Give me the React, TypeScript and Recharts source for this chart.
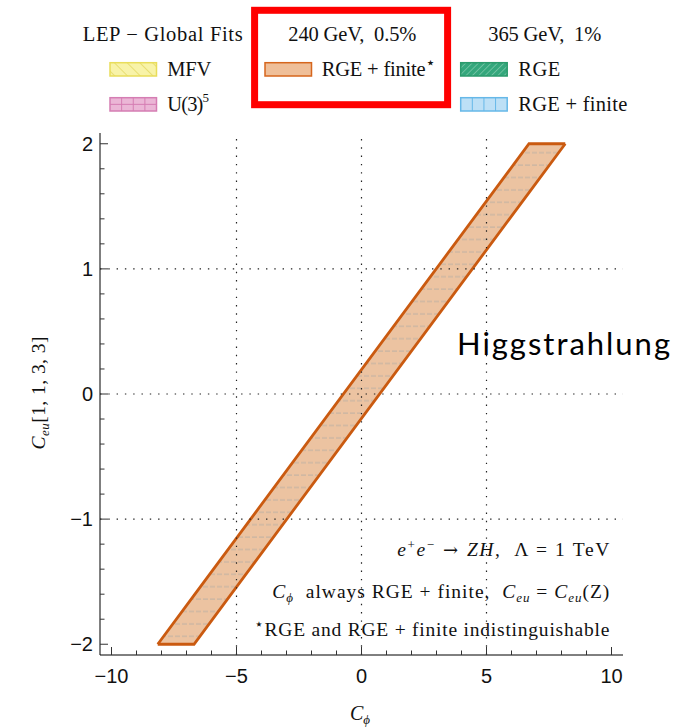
import { ComposedChart, Area, XAxis, YAxis, ReferenceLine } from 'recharts';

// band outline (C_phi, lower / upper C_eu edge)
const bandX = [-8.15, -6.7, 6.7, 8.15];
const bandLow = [-2, -2, 1.61, 2];
const bandHigh = [-2, -1.61, 2, 2];

const xTicks = [-10, -9, -8, -7, -6, -5, -4, -3, -2, -1, 0, 1, 2, 3, 4, 5, 6, 7, 8, 9, 10];
const xMajor = [-10, -5, 0, 5, 10];
const yTicks = [-2, -1.8, -1.6, -1.4, -1.2, -1, -0.8, -0.6, -0.4, -0.2, 0, 0.2, 0.4, 0.6, 0.8, 1, 1.2, 1.4, 1.6, 1.8, 2];
const yMajor = [-2, -1, 0, 1, 2];
const gridX = [-5, 0, 5];
const gridY = [-1, 0, 1];
const xDomain = [-10.46, 10.46];
const yDomain = [-2.086, 2.086];

const legendHeaders = ['LEP \u2212 Global Fits', '240 GeV, \u00a00.5%', '365 GeV, \u00a01%'];
const legendLabels = ['MFV', 'U(3)', 'RGE + finite', 'RGE', 'RGE + finite'];

const SERIF = '"Liberation Serif", "DejaVu Serif", serif';
const SANS = '"Liberation Sans", Arial, sans-serif';
const BAND_FILL = '#ecc3a1';
const BAND_STROKE = '#ca5a10';

const bandData = bandX.map((x, i) => ({ x, range: [bandLow[i], bandHigh[i]] }));

const fmt = (v: number) => (v < 0 ? '\u2212' + Math.abs(v) : String(v));
const isMajorY = (v: number) => yMajor.some((m) => Math.abs(m - v) < 1e-9);

function BottomTick({ x, y, payload }: any) {
    const major = xMajor.includes(payload.value);
    return (
        <g>
            <line x1={x} x2={x} y1={y} y2={y - (major ? 8 : 4.5)} stroke="#333" />
            {major && (
                <text x={x} y={y + 28} textAnchor="middle" fontSize={20} fontFamily={SANS} fill="#111">
                    {fmt(payload.value)}
                </text>
            )}
        </g>
    );
}

function TopTick({ x, y, payload }: any) {
    const major = xMajor.includes(payload.value);
    return <line x1={x} x2={x} y1={y} y2={y + (major ? 8 : 4.5)} stroke="#333" />;
}

function LeftTick({ x, y, payload }: any) {
    const major = isMajorY(payload.value);
    return (
        <g>
            <line x1={x} x2={x + (major ? 8 : 4.5)} y1={y} y2={y} stroke="#333" />
            {major && (
                <text x={x - 7} y={y + 7} textAnchor="end" fontSize={20} fontFamily={SANS} fill="#111">
                    {fmt(payload.value)}
                </text>
            )}
        </g>
    );
}

function RightTick({ x, y, payload }: any) {
    const major = isMajorY(payload.value);
    return <line x1={x} x2={x - (major ? 8 : 4.5)} y1={y} y2={y} stroke="#333" />;
}

function Swatch({ x, y, fill, stroke, cols = 0, rows = 0, pattern }: any) {
    const w = 46.5;
    const h = 13.3;
    return (
        <g>
            <rect x={x} y={y} width={w} height={h} fill={pattern ? `url(#${pattern})` : fill} stroke={stroke} strokeWidth={1.5} />
            {Array.from({ length: Math.max(cols - 1, 0) }, (_, i) => (
                <line key={'c' + i} x1={x + ((i + 1) * w) / cols} x2={x + ((i + 1) * w) / cols} y1={y} y2={y + h} stroke={stroke} strokeWidth={1} />
            ))}
            {Array.from({ length: Math.max(rows - 1, 0) }, (_, i) => (
                <line key={'r' + i} x1={x} x2={x + w} y1={y + ((i + 1) * h) / rows} y2={y + ((i + 1) * h) / rows} stroke={stroke} strokeWidth={1} />
            ))}
        </g>
    );
}

function Overlay() {
    return (
        <svg width={691} height={728} style={{ position: 'absolute', left: 0, top: 0, pointerEvents: 'none' }}>
            <defs>
                <pattern id="bandHatch" patternUnits="userSpaceOnUse" width={7} height={12.4}>
                    <rect width={7} height={12.4} fill={BAND_FILL} />
                    <line x1={0} x2={5} y1={3.9} y2={3.9} stroke="#b8aea4" strokeWidth={0.9} />
                </pattern>
                <pattern id="mfvHatch" patternUnits="userSpaceOnUse" width={9} height={9} patternTransform="rotate(-45)">
                    <rect width={9} height={9} fill="#f8f3a8" />
                    <line x1={0} x2={0} y1={0} y2={9} stroke="#e2d65c" strokeWidth={1.4} />
                </pattern>
                <pattern id="rgeHatch" patternUnits="userSpaceOnUse" width={4.5} height={4.5} patternTransform="rotate(45)">
                    <rect width={4.5} height={4.5} fill="#34a77c" />
                    <line x1={0} x2={0} y1={0} y2={4.5} stroke="#9fd9bf" strokeWidth={1} />
                </pattern>
            </defs>

            {/* legend */}
            <g fontFamily={SERIF} fontSize={20.5} fill="#111">
                <text x={82.7} y={40.7} textLength={160} lengthAdjust="spacing">{legendHeaders[0]}</text>
                <text x={288.3} y={40.7} textLength={128} lengthAdjust="spacing">{legendHeaders[1]}</text>
                <text x={488.3} y={40.7} textLength={113} lengthAdjust="spacing">{legendHeaders[2]}</text>

                <Swatch x={110} y={62.7} stroke="#e9dd5a" pattern="mfvHatch" />
                <text x={167.3} y={76} textLength={44} lengthAdjust="spacing">{legendLabels[0]}</text>

                <Swatch x={110} y={97.7} fill="#ebb6d6" stroke="#d57db3" cols={4} rows={2} />
                <text x={167.3} y={111}>
                    <tspan textLength={36}>{legendLabels[1]}</tspan>
                    <tspan dy={-9} fontSize={13}>5</tspan>
                </text>

                <Swatch x={265} y={62.7} fill="#efbf99" stroke="#d6661d" />
                <text x={321.7} y={76}>
                    <tspan textLength={104}>{legendLabels[2]}</tspan>
                    <tspan dy={-8} fontSize={16} fontFamily='"DejaVu Sans", sans-serif'>{'\u22c6'}</tspan>
                </text>

                <Swatch x={460.7} y={62.7} stroke="#2b9a6c" pattern="rgeHatch" />
                <text x={518.3} y={76} textLength={42} lengthAdjust="spacing">{legendLabels[3]}</text>

                <Swatch x={460.7} y={97.7} fill="#bde0f6" stroke="#66b8e8" cols={4} />
                <text x={518.3} y={111} textLength={109} lengthAdjust="spacing">{legendLabels[4]}</text>
            </g>
            <rect x={254.6} y={10.3} width={193} height={94.4} fill="none" stroke="#ff0000" strokeWidth={7} />

            {/* annotations */}
            <g fontFamily={SERIF} fontSize={19.5} fill="#111" textAnchor="end">
                <text x={609.3} y={556} textLength={212} lengthAdjust="spacing">
                    <tspan fontStyle="italic">e</tspan>
                    <tspan dy={-7} fontSize={13}>+</tspan>
                    <tspan dy={7} fontStyle="italic">e</tspan>
                    <tspan dy={-7} fontSize={13}>{'\u2212'}</tspan>
                    <tspan dy={7} fontFamily='"DejaVu Serif", serif' fontSize={18}>{' \u2192 '}</tspan>
                    <tspan fontStyle="italic">ZH</tspan>
                    <tspan>{', \u00a0\u039b = 1 TeV'}</tspan>
                </text>
                <text x={609.3} y={598} textLength={337} lengthAdjust="spacing">
                    <tspan fontStyle="italic">C</tspan>
                    <tspan dy={4} fontSize={13} fontStyle="italic">{'\u03d5'}</tspan>
                    <tspan dy={-4}>{' \u00a0always RGE + finite, \u00a0'}</tspan>
                    <tspan fontStyle="italic">C</tspan>
                    <tspan dy={4} fontSize={13} fontStyle="italic">eu</tspan>
                    <tspan dy={-4}>{' = '}</tspan>
                    <tspan fontStyle="italic">C</tspan>
                    <tspan dy={4} fontSize={13} fontStyle="italic">eu</tspan>
                    <tspan dy={-4}>(Z)</tspan>
                </text>
                <text x={609.3} y={636} textLength={355} lengthAdjust="spacing">
                    <tspan dy={-7} fontSize={15} fontFamily='"DejaVu Sans", sans-serif'>{'\u22c6'}</tspan>
                    <tspan dy={7}>RGE and RGE + finite indistinguishable</tspan>
                </text>
            </g>

            {/* axis titles */}
            <text x={360} y={720} textAnchor="middle" fontFamily={SERIF} fontSize={20} fill="#111">
                <tspan fontStyle="italic">C</tspan>
                <tspan dy={4} fontSize={13} fontStyle="italic">{'\u03d5'}</tspan>
            </text>
            <text x={45} y={393} textAnchor="middle" fontFamily={SERIF} fontSize={19.5} fill="#111" transform="rotate(-90, 45, 393)" textLength={113} lengthAdjust="spacing">
                <tspan fontStyle="italic">C</tspan>
                <tspan dy={4} fontSize={13} fontStyle="italic">eu</tspan>
                <tspan dy={-4}>[1, 1, 3, 3]</tspan>
            </text>

            <text x={457} y={355} fontFamily='Lato, "Open Sans", sans-serif' fontSize={31} fill="#000" textLength={213} lengthAdjust="spacing">
                Higgstrahlung
            </text>
        </svg>
    );
}

export default function App() {
    return (
        <div style={{ position: 'absolute', left: 0, top: 0, width: 691, height: 728, background: '#fff' }}>
            <ComposedChart width={691} height={728} data={bandData} margin={{ top: 133, right: 68, bottom: 0, left: 0 }}>
                <XAxis
                    dataKey="x"
                    type="number"
                    domain={xDomain}
                    allowDataOverflow
                    ticks={xTicks}
                    interval={0}
                    height={73}
                    tickSize={0}
                    tickMargin={0}
                    tickLine={false}
                    tick={<BottomTick />}
                    axisLine={{ stroke: '#000' }}
                />
                <XAxis
                    xAxisId="top"
                    orientation="top"
                    dataKey="x"
                    type="number"
                    domain={xDomain}
                    allowDataOverflow
                    ticks={xTicks}
                    interval={0}
                    height={0}
                    tickSize={0}
                    tickMargin={0}
                    tickLine={false}
                    tick={<TopTick />}
                    axisLine={{ stroke: '#000' }}
                />
                <YAxis
                    type="number"
                    domain={yDomain}
                    allowDataOverflow
                    ticks={yTicks}
                    interval={0}
                    width={100}
                    tickSize={0}
                    tickMargin={0}
                    tickLine={false}
                    tick={<LeftTick />}
                    axisLine={{ stroke: '#000' }}
                />
                <YAxis
                    yAxisId="right"
                    orientation="right"
                    type="number"
                    domain={yDomain}
                    allowDataOverflow
                    ticks={yTicks}
                    interval={0}
                    width={0}
                    tickSize={0}
                    tickMargin={0}
                    tickLine={false}
                    tick={<RightTick />}
                    axisLine={{ stroke: '#000' }}
                />
                {gridX.map((v) => (
                    <ReferenceLine key={'gx' + v} x={v} stroke="#222" strokeWidth={1.2} strokeDasharray="1.4 6.9" />
                ))}
                {gridY.map((v) => (
                    <ReferenceLine key={'gy' + v} y={v} stroke="#222" strokeWidth={1.2} strokeDasharray="1.4 6.9" />
                ))}
                <Area
                    dataKey="range"
                    type="linear"
                    fill="url(#bandHatch)"
                    fillOpacity={1}
                    stroke={BAND_STROKE}
                    strokeWidth={2.8}
                    dot={false}
                    activeDot={false}
                    isAnimationActive={false}
                />
            </ComposedChart>
            <Overlay />
        </div>
    );
}
